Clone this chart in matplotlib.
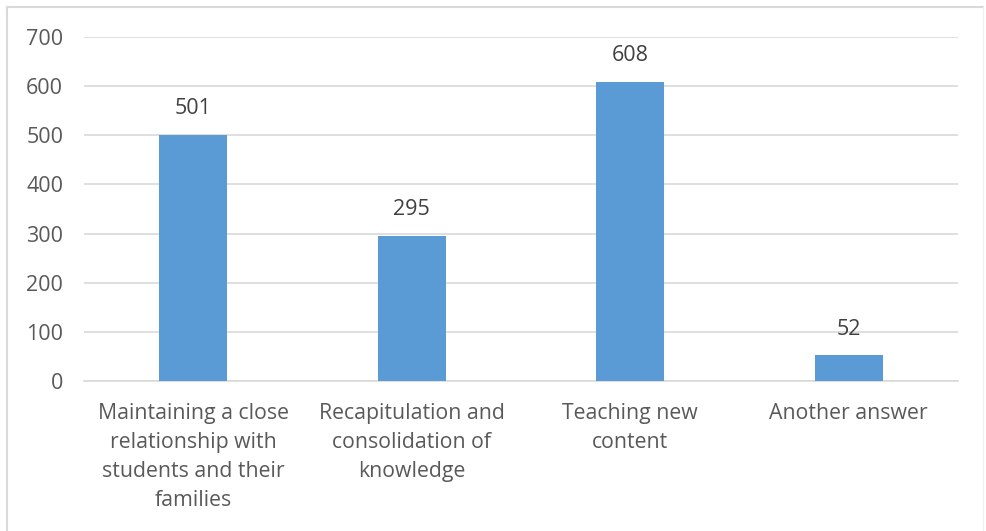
import matplotlib
matplotlib.use("Agg")
import matplotlib.pyplot as plt
from matplotlib.lines import Line2D

categories = ["Maintaining a close\nrelationship with\nstudents and their\nfamilies",
              "Recapitulation and\nconsolidation of\nknowledge",
              "Teaching new\ncontent",
              "Another answer"]
values = [501, 295, 608, 52]
yticks = [0, 100, 200, 300, 400, 500, 600, 700]

plt.rcParams['font.family'] = ['Open Sans', 'DejaVu Sans']
txt = '#595959'

fig = plt.figure(figsize=(9.86, 5.31), dpi=100)
ax = fig.add_axes([84/986, 1-381/531, (958-84)/986, (381-37)/531])
x = list(range(len(values)))
ax.bar(x, values, width=0.31, color='#5B9BD5', zorder=3)
ax.set_xlim(-0.5, len(values)-0.5)
ax.set_ylim(0, 700)
ax.set_yticks(yticks)
ax.set_yticklabels([str(t) for t in yticks])
ax.yaxis.grid(True, color='#D9D9D9', linewidth=1.2, zorder=0)
for s in ['top', 'right', 'left']:
    ax.spines[s].set_visible(False)
ax.spines['bottom'].set_color('#D9D9D9')
ax.spines['bottom'].set_linewidth(1.2)
ax.tick_params(axis='y', length=0, labelsize=15.5, colors=txt, pad=15)
ax.tick_params(axis='x', length=0, colors=txt, pad=16)
ax.set_xticks(x)
ax.set_xticklabels(categories, fontsize=15.3, color=txt, linespacing=1.5)
for xi, v in zip(x, values):
    ax.annotate(str(v), (xi, v), xytext=(0, 19), textcoords='offset points',
                ha='center', va='center', fontsize=15.5, color='#404040')

# chart border
fig.add_artist(Line2D([7/986, 7/986], [0, 1-7/531], transform=fig.transFigure, color='#D9D9D9', lw=1.5))
fig.add_artist(Line2D([7/986, 983/986], [1-7/531, 1-7/531], transform=fig.transFigure, color='#D9D9D9', lw=1.5))
fig.add_artist(Line2D([983/986, 983/986], [0, 1-7/531], transform=fig.transFigure, color='#F0F0F0', lw=1))

fig.savefig("out.png", dpi=100, facecolor='white')
